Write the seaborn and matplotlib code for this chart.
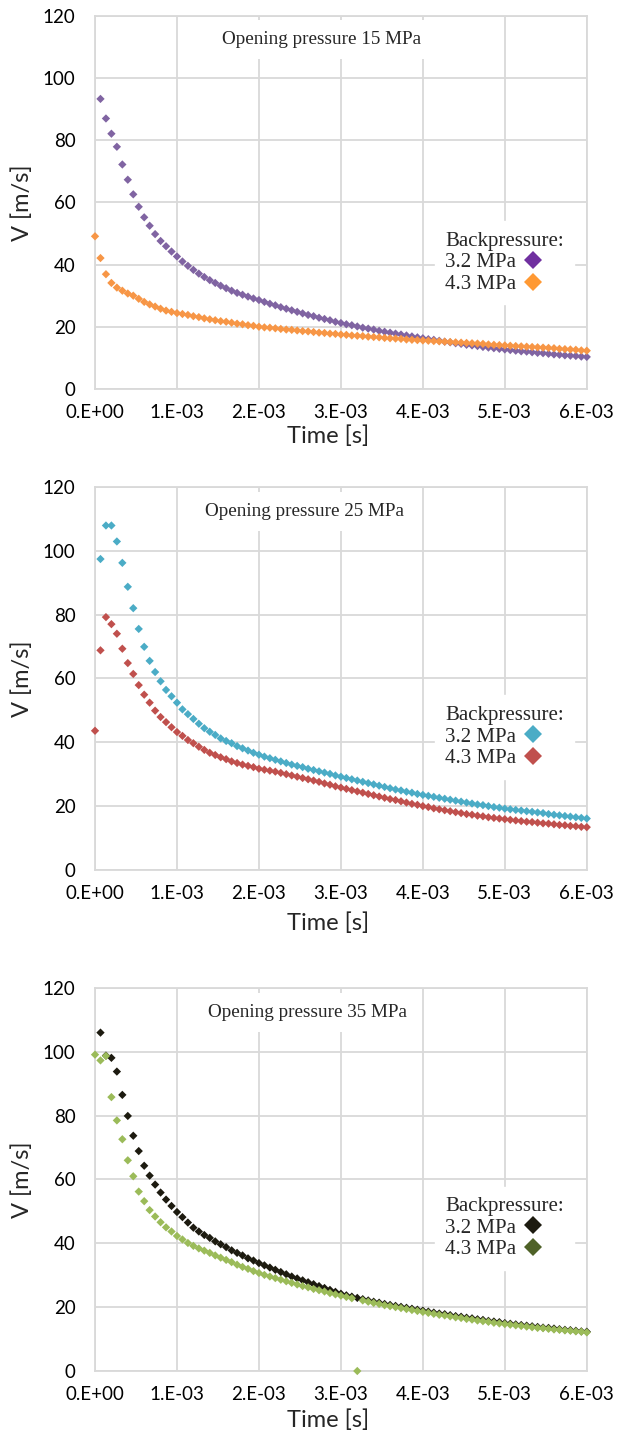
import numpy as np
import pandas as pd
import seaborn as sns
import matplotlib.pyplot as plt
from matplotlib.lines import Line2D

# time grid of the solver output (step 1/15000 s, 0 .. 6e-3 s)
time_step = 1.0 / 15000
n_points = 91
time_s = np.arange(n_points) * time_step

nan = np.nan

# ---- opening pressure 15 MPa ----
v15_bp32 = [nan, 93.3, 87.0, 82.1, 77.9, 72.2, 67.3, 62.6, 58.6, 55.2, 52.5,
            49.8, 47.6, 45.9, 44.2, 42.6, 41.0, 39.6, 38.3, 37.1, 36.0,
            35.0, 34.1, 33.2, 32.4, 31.6, 30.9, 30.3, 29.7, 29.1, 28.6,
            28.0, 27.4, 26.9, 26.3, 25.8, 25.3, 24.8, 24.3, 23.8, 23.4,
            22.9, 22.5, 22.1, 21.6, 21.2, 20.8, 20.5, 20.1, 19.7, 19.4,
            19.1, 18.7, 18.4, 18.1, 17.8, 17.5, 17.2, 16.9, 16.6, 16.3,
            16.0, 15.8, 15.5, 15.2, 15.0, 14.7, 14.5, 14.2, 14.0, 13.8,
            13.5, 13.3, 13.1, 12.9, 12.7, 12.5, 12.3, 12.1, 12.0, 11.8,
            11.6, 11.5, 11.3, 11.1, 11.0, 10.8, 10.7, 10.6, 10.4, 10.3]
v15_bp43 = [49.1, 42.1, 36.9, 34.1, 32.6, 31.6, 30.7, 30.0, 29.0, 28.0, 27.2,
            26.5, 25.8, 25.2, 24.8, 24.4, 24.1, 23.8, 23.4, 23.1, 22.7,
            22.4, 22.1, 21.8, 21.6, 21.3, 21.0, 20.8, 20.5, 20.3, 20.0,
            19.8, 19.7, 19.5, 19.3, 19.1, 19.0, 18.8, 18.6, 18.5, 18.3,
            18.1, 18.0, 17.8, 17.7, 17.5, 17.4, 17.2, 17.1, 17.0, 16.8,
            16.7, 16.6, 16.4, 16.3, 16.2, 16.1, 15.9, 15.8, 15.7, 15.6,
            15.5, 15.4, 15.3, 15.2, 15.1, 15.0, 14.9, 14.8, 14.7, 14.6,
            14.5, 14.3, 14.2, 14.1, 14.0, 13.9, 13.8, 13.7, 13.6, 13.5,
            13.4, 13.3, 13.2, 13.1, 12.9, 12.8, 12.7, 12.6, 12.4, 12.3]

# ---- opening pressure 25 MPa ----
v25_bp32 = [nan, 97.4, 107.9, 107.9, 102.9, 96.2, 88.7, 82.0, 75.5, 69.9, 65.5,
            62.0, 59.1, 56.4, 54.4, 52.4, 50.3, 48.8, 47.3, 45.8, 44.4,
            43.3, 42.3, 41.2, 40.4, 39.7, 38.8, 38.1, 37.4, 36.7, 36.1,
            35.5, 35.0, 34.5, 34.0, 33.5, 33.0, 32.6, 32.2, 31.7, 31.3,
            30.9, 30.5, 30.1, 29.6, 29.2, 28.8, 28.4, 28.0, 27.6, 27.2,
            26.8, 26.4, 26.0, 25.6, 25.2, 24.9, 24.5, 24.2, 23.8, 23.5,
            23.2, 22.9, 22.6, 22.3, 22.0, 21.7, 21.4, 21.1, 20.8, 20.5,
            20.3, 20.0, 19.7, 19.5, 19.2, 19.0, 18.8, 18.6, 18.4, 18.2,
            18.0, 17.8, 17.5, 17.3, 17.1, 16.9, 16.7, 16.5, 16.3, 16.1]
v25_bp43 = [43.6, 68.8, 79.2, 77.0, 74.0, 69.3, 64.8, 61.4, 57.9, 54.9, 52.4,
            49.9, 47.9, 46.3, 44.7, 43.2, 42.0, 40.7, 39.7, 38.6, 37.6,
            36.7, 36.0, 35.3, 34.7, 34.0, 33.5, 33.0, 32.6, 32.2, 31.7,
            31.4, 31.1, 30.8, 30.4, 30.0, 29.6, 29.2, 28.8, 28.4, 28.0,
            27.6, 27.1, 26.7, 26.2, 25.8, 25.4, 25.0, 24.6, 24.2, 23.8,
            23.4, 23.0, 22.6, 22.2, 21.9, 21.5, 21.1, 20.7, 20.4, 20.0,
            19.7, 19.3, 19.0, 18.7, 18.4, 18.1, 17.8, 17.5, 17.3, 17.0,
            16.8, 16.5, 16.3, 16.1, 15.9, 15.7, 15.5, 15.3, 15.1, 15.0,
            14.8, 14.6, 14.5, 14.3, 14.1, 14.0, 13.8, 13.7, 13.5, 13.4]

# ---- opening pressure 35 MPa ----
v35_bp32 = [nan, 106.0, 98.8, 98.1, 93.8, 86.5, 79.9, 73.7, 68.9, 64.3, 61.2,
            58.4, 55.9, 53.7, 51.7, 49.8, 48.2, 46.5, 44.9, 43.7, 42.6,
            41.7, 40.6, 39.7, 38.8, 37.8, 37.0, 36.2, 35.3, 34.6, 33.8,
            33.1, 32.4, 31.7, 31.0, 30.3, 29.6, 29.0, 28.4, 27.8, 27.2,
            26.6, 26.0, 25.4, 24.8, 24.2, 23.7, 23.3, 22.9, 22.5, 22.1,
            21.7, 21.4, 21.0, 20.7, 20.4, 20.1, 19.8, 19.5, 19.2, 18.9,
            18.6, 18.3, 18.0, 17.8, 17.5, 17.2, 17.0, 16.7, 16.5, 16.2,
            16.0, 15.7, 15.5, 15.3, 15.0, 14.8, 14.6, 14.4, 14.2, 14.0,
            13.8, 13.6, 13.5, 13.3, 13.1, 12.9, 12.8, 12.6, 12.4, 12.3]
v35_bp43 = [99.1, 97.3, 98.7, 85.8, 78.5, 72.6, 66.0, 61.0, 56.2, 53.2, 50.4,
            48.4, 46.6, 45.0, 43.7, 42.3, 41.2, 40.1, 39.2, 38.4, 37.7,
            37.0, 36.2, 35.5, 34.8, 34.1, 33.3, 32.6, 32.0, 31.3, 30.7,
            30.1, 29.6, 29.1, 28.6, 28.1, 27.6, 27.1, 26.6, 26.2, 25.7,
            25.3, 24.9, 24.4, 24.0, 23.6, 23.2, 22.8, 0.0, 22.1, 21.7,
            21.3, 21.0, 20.6, 20.3, 20.0, 19.7, 19.4, 19.1, 18.8, 18.5,
            18.2, 17.9, 17.6, 17.4, 17.1, 16.8, 16.6, 16.3, 16.1, 15.8,
            15.6, 15.4, 15.1, 14.9, 14.7, 14.5, 14.3, 14.1, 13.9, 13.7,
            13.5, 13.4, 13.2, 13.0, 12.9, 12.7, 12.6, 12.4, 12.3, 12.1]

panel_titles = ['Opening pressure 15 MPa', 'Opening pressure 25 MPa', 'Opening pressure 35 MPa']
series_labels = ['3.2 MPa', '4.3 MPa']
panel_data = [(v15_bp32, v15_bp43), (v25_bp32, v25_bp43), (v35_bp32, v35_bp43)]
x_ticks = [0, 1e-3, 2e-3, 3e-3, 4e-3, 5e-3, 6e-3]
x_tick_labels = ['0.E+00', '1.E-03', '2.E-03', '3.E-03', '4.E-03', '5.E-03', '6.E-03']
y_ticks = [0, 20, 40, 60, 80, 100, 120]

# colours of the points and of the (slightly different) legend keys
point_colors = [('#8064A2', '#F79646'), ('#4BACC6', '#C0504D'), ('#1D1B10', '#9BBB59')]
legend_colors = [('#7030A0', '#FF9933'), ('#4BACC6', '#C0504D'), ('#1D1B10', '#4F6228')]

sns.set_style('whitegrid')
plt.rcParams['font.family'] = ['Lato', 'DejaVu Sans']
serif = ['Liberation Serif', 'DejaVu Serif']
grid_c = '#D9D9D9'

fig = plt.figure(figsize=(6.17, 14.32), dpi=100)
# axes rectangles [left, bottom, width, height] in figure fraction
rects = [[0.154, 0.7284, 0.797, 0.2605],
         [0.154, 0.3925, 0.797, 0.2675],
         [0.154, 0.0426, 0.797, 0.2675]]
title_x = [0.461, 0.427, 0.433]
legend_y = [0.338, 0.347, 0.373]
xlabel_y = [-0.128, -0.138, -0.128]

for i in range(3):
    ax = fig.add_axes(rects[i])
    s32, s43 = panel_data[i]
    df = pd.DataFrame({
        'time': np.concatenate([time_s, time_s]),
        'v': np.concatenate([s32, s43]),
        'bp': [series_labels[0]] * n_points + [series_labels[1]] * n_points,
    }).dropna()
    sns.scatterplot(data=df, x='time', y='v', hue='bp', palette=list(point_colors[i]),
                    marker='D', s=18, linewidth=0, legend=False, ax=ax, clip_on=False,
                    zorder=3)
    ax.set_xlim(0, 6e-3)
    ax.set_ylim(0, 120)
    ax.set_xticks(x_ticks)
    ax.set_xticklabels(x_tick_labels)
    ax.set_yticks(y_ticks)
    ax.tick_params(axis='x', length=0, pad=11, labelsize=13.5, colors='#000000')
    ax.tick_params(axis='y', length=0, pad=14, labelsize=13.5, colors='#000000')
    ax.grid(True, color=grid_c, linewidth=1.3)
    for sp in ax.spines.values():
        sp.set_color(grid_c)
        sp.set_linewidth(1.3)
    ax.set_axisbelow(True)

    ax.set_ylabel('V [m/s]', fontsize=17, va='center')
    ax.yaxis.set_label_coords(-0.148, 0.5)
    ax.set_xlabel('Time [s]', fontsize=17, va='center')
    ax.xaxis.set_label_coords(0.474, xlabel_y[i])

    ax.text(title_x[i], 0.936, panel_titles[i], transform=ax.transAxes, ha='center',
            va='center', fontsize=13.8, family=serif, zorder=4,
            bbox=dict(facecolor='white', edgecolor='none', pad=8))

    handles = [Line2D([], [], linestyle='none', marker='D', markersize=8.8,
                      markerfacecolor=c, markeredgewidth=0) for c in legend_colors[i]]
    leg = ax.legend(handles, series_labels, title='Backpressure:', loc='center left',
                    bbox_to_anchor=(0.691, legend_y[i]), borderaxespad=0, markerfirst=False,
                    frameon=True, fancybox=False, framealpha=1, edgecolor='white',
                    prop={'family': serif, 'size': 15}, title_fontproperties={'family': serif, 'size': 15},
                    alignment='left', labelspacing=0.1, handletextpad=0.3, handlelength=1.0,
                    borderpad=0.5)
    leg.set_zorder(5)

fig.savefig('out.png', dpi=100)
